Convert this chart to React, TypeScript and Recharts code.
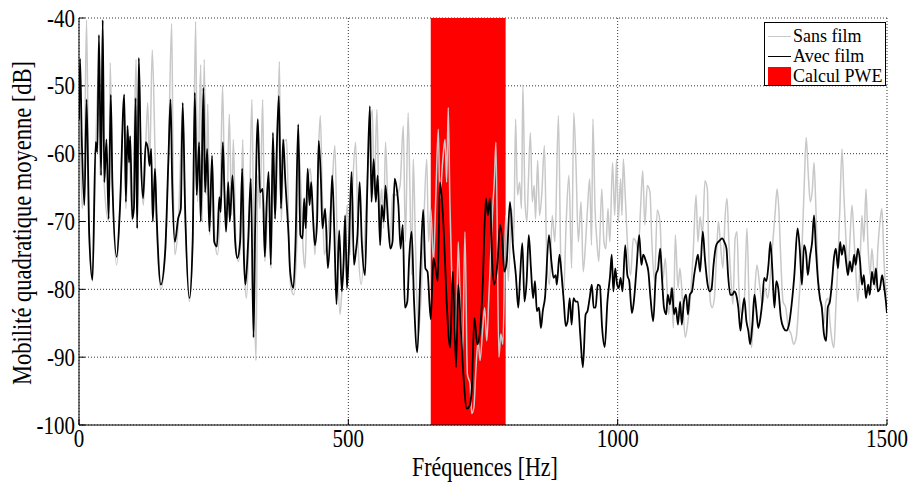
import { CartesianGrid, Line, LineChart, ReferenceArea, XAxis, YAxis } from 'recharts';

// Frequency (Hz) / mobility (dB) pairs.
const sansFilm: [number, number][] = [
  [0, -56], [2, -57.4], [6, -68.1], [10, -62], [14, -40.3], [19, -72], [25, -78.8], [31, -59.3], [36, -48.3], [39, -63.2],
  [44, -41.8], [47, -64.7], [55, -70], [58, -46.6], [62, -64.7], [70, -76.4], [76, -68.1], [84, -52.5], [87, -68.1], [92, -58.3],
  [99, -70], [106, -46.1], [109, -69.1], [111.5, -46.6], [115, -61.3], [119.5, -67.6], [127.5, -52.5], [131, -61.8], [136, -44.7], [141, -59.3],
  [144, -70], [152, -80], [160, -74.9], [166, -61.3], [172, -40.8], [175, -64.2], [178, -74.9], [184.5, -70], [192.5, -53.5], [197, -69.1],
  [205, -81.8], [211, -73], [216.5, -40.5], [220, -67.1], [226, -46.9], [228.5, -70], [232.5, -46.1], [236, -66.1], [239, -52.7], [243, -72],
  [247, -60.8], [252.5, -73], [257, -74.9], [262, -68.1], [266.5, -50], [270.5, -66.1], [274, -70.5], [279, -54.2], [283.5, -69.1], [286.5, -57.9],
  [291.5, -74], [296, -75.9], [300, -73], [304, -57.9], [308, -78.8], [311, -81.3], [316, -70.5], [321, -52], [325, -77.9], [328.5, -90.5],
  [332, -63.2], [336, -68.1], [341, -52], [345, -75.9], [350, -68.1], [353.5, -64.2], [356.5, -76.9], [361, -59.8], [364.5, -69.1], [368, -61.8],
  [372, -46.4], [375.5, -70], [380.5, -58.3], [385.5, -57.9], [390.5, -75.9], [393.5, -79.8], [399, -80.8], [404, -74], [408.5, -59.3], [412, -65.2],
  [416, -74], [419.5, -76.9], [423, -68.1], [429, -62.2], [433, -66.1], [438, -74.9], [443, -63.2], [448, -54.4], [452, -67.1], [455.5, -74.9],
  [460, -73], [464, -70], [469, -66.1], [475, -58.8], [480, -75.9], [484.5, -83.7], [489, -78.8], [494, -73], [498, -67.6], [503, -74.9],
  [508, -64.7], [513.5, -58.3], [518.5, -74], [524, -79.3], [530, -73], [535, -64.2], [539.5, -57.4], [544.5, -53.5], [548, -66.1], [553, -53.5],
  [557.5, -69.1], [562, -65.2], [565.5, -71], [569, -58.3], [574, -69.1], [578, -73], [582, -66], [589.5, -66.1], [596, -64.7], [602, -55.9],
  [606, -73], [611, -54], [614.5, -66.1], [617.5, -77.9], [620.5, -60.8], [624.5, -73], [630, -86.6], [634, -82.7], [639, -73], [645.5, -60.8],
  [649, -73], [653, -68.1], [658, -75.9], [662.5, -66.1], [667, -56.4], [670, -66.6], [675, -61.3], [679.5, -57.9], [682.5, -64.2], [685.5, -53.2],
  [688.5, -67.1], [692, -77.9], [696, -81.8], [700, -87.6], [704, -73], [708.5, -84.2], [712, -89.6], [716.5, -71.5], [721, -92.5], [726, -94],
  [729, -98.3], [733, -97.4], [737, -91.5], [741, -87.6], [744.5, -90.5], [749.5, -85.7], [753, -82.7], [757, -87.6], [760.5, -81.8], [764, -75.4],
  [768, -68.1], [771.5, -63.2], [774, -58.3], [779.5, -90], [783, -86.6], [787, -88.1], [792, -69.1], [797, -78.8], [803, -68.1], [807, -73],
  [810.5, -54.9], [814, -66.1], [818, -64.2], [821.5, -68.1], [824, -49.8], [828, -67.1], [831.5, -70], [834, -64.7], [838, -56.9], [841.5, -67.1],
  [845, -64.7], [847.5, -69.6], [851.5, -61], [855, -69.1], [859, -66.1], [864, -58.8], [868.5, -75.9], [873.5, -79.3], [878.5, -69.1], [883.5, -73],
  [890, -54.4], [894.5, -75.9], [899.5, -80.8], [904.5, -70], [909.5, -63.2], [914.5, -76.9], [918.5, -54], [922.5, -61.3], [927, -73], [932, -67.1],
  [936, -77.4], [940.5, -73], [944, -68.1], [948, -63.7], [951.5, -73.5], [954, -54.9], [958, -68.1], [961.5, -73], [965, -75.9], [970.5, -65.2],
  [974.5, -73], [978, -74], [982, -68.1], [985.5, -73], [990.5, -61.3], [994.5, -69.1], [998, -60.8], [1001, -70], [1005.5, -63.7], [1008, -69.1],
  [1010.5, -60.8], [1014, -66.1], [1019, -74.4], [1024, -77.9], [1029, -72.5], [1034, -73], [1038, -74.4], [1042.5, -68.1], [1046.5, -62.5], [1050.5, -70.5],
  [1055, -64.7], [1060, -65.7], [1063.5, -73], [1068.5, -78.8], [1073.5, -68.3], [1078.5, -70], [1083.5, -78.8], [1088.5, -75.4], [1094.5, -83.7], [1099.5, -79.8],
  [1103.5, -85.7], [1107, -72], [1112, -79.8], [1115.5, -76.9], [1120.5, -81.8], [1125.5, -87.1], [1130.5, -84.7], [1135.5, -80.8], [1140.5, -74], [1145.5, -66.1],
  [1149, -73], [1153, -69.3], [1157.5, -72], [1162, -64], [1166.5, -65.2], [1168.5, -72.5], [1172, -81.8], [1175.5, -82.7], [1179.5, -81.3], [1183, -75.9],
  [1187, -70], [1190.5, -73], [1195.5, -76.9], [1199, -70], [1203, -66.6], [1206.5, -73], [1210.5, -78.8], [1214, -82.2], [1218, -72.5], [1221.5, -71.5],
  [1225, -79.8], [1230, -83.7], [1235, -81.8], [1240, -71], [1244, -81.8], [1248.5, -88.6], [1253.5, -81.8], [1258.5, -76.4], [1263.5, -79.3], [1268.5, -82.2],
  [1273.5, -79.8], [1278.5, -81.3], [1283.5, -77.9], [1288.5, -72.5], [1292, -69.1], [1296, -65.2], [1299.5, -68.6], [1303, -75.9], [1307, -81.8], [1312, -82.7],
  [1317, -85.7], [1322, -86.6], [1326.5, -88.1], [1331.5, -87.1], [1336.5, -81.8], [1341.5, -75.4], [1346.5, -64.2], [1350, -57.6], [1354, -63.2], [1357.5, -67.1],
  [1361.5, -65.2], [1364.5, -61.3], [1368, -68.1], [1372, -77.9], [1375.5, -81.3], [1379, -82.7], [1383, -85.2], [1386.5, -81.8], [1390.5, -81.3], [1394, -84.7],
  [1398, -87.6], [1401.5, -88.6], [1405, -82.7], [1409, -75.9], [1412.5, -68.1], [1416.5, -59.3], [1420, -66.1], [1424, -73], [1427.5, -77.9], [1431, -73],
  [1435, -67.6], [1438.5, -72], [1442.5, -77.9], [1446, -81.8], [1450, -75.9], [1453.5, -69.1], [1457, -73], [1461, -65.2], [1464.5, -73], [1468.5, -77.9],
  [1472, -74], [1476, -77.9], [1479.5, -79.8], [1483, -74], [1487, -70], [1490.5, -68.1], [1494.5, -75.9], [1498, -80.3], [1500, -81],
];

const avecFilm: [number, number][] = [
  [0, -55], [2, -46], [5, -57.4], [10, -67.6], [14, -52], [19, -72], [25, -78.6], [31, -58.3], [34, -59.8], [37, -42.5],
  [41, -63.2], [44, -40.3], [47, -64.2], [51, -57.9], [55, -69.6], [59, -51.3], [62, -64.2], [70, -75.2], [76, -68.1], [84, -51.3],
  [87, -67.1], [90, -55.9], [93, -61.3], [95, -57.4], [99, -69.6], [102, -68], [105, -51.8], [108, -71], [111, -45.9], [115, -60.8],
  [119, -66.6], [124, -58.3], [128, -59.3], [131, -61.8], [134, -59.3], [137, -70], [141, -62.2], [144, -69.1], [152, -79.3], [160, -74.4],
  [166, -60.8], [170, -52], [173, -64.2], [178, -73], [184, -69.6], [189, -68.1], [192.5, -52.5], [197, -68.1], [205, -81.3], [211, -73],
  [215, -51], [218.5, -66.1], [223, -58.3], [226, -70], [231, -50.3], [234, -65.7], [238, -59.3], [242, -71.5], [247, -60.3], [251, -73],
  [256, -73.7], [260.5, -66.4], [263, -68.6], [267, -58.3], [270, -65.7], [273, -71.5], [277, -64.2], [280, -70], [285, -63.2], [290, -73],
  [294, -75.4], [299, -73], [303, -62.2], [306, -74.9], [309, -79.3], [314, -73], [319, -63.7], [324, -87.1], [327, -71], [332, -54.9],
  [336, -65.7], [341, -65.2], [345, -75.2], [348, -68.1], [352, -62.7], [356, -76.4], [360, -56.9], [364, -69.6], [367, -59.8], [371, -51.5],
  [375, -68.1], [379, -57.9], [383, -64], [389, -72], [392, -77.4], [398, -79.8], [402, -73], [407, -55.7], [411, -72], [415, -72.5],
  [418, -66.6], [421, -71], [424.5, -62.2], [428, -67.6], [431, -64.2], [434, -68.6], [438, -73.5], [442, -70], [445, -58.1], [449, -63.7],
  [452, -71], [457, -68.1], [462, -76.9], [466, -72.5], [470, -63.2], [474, -71.5], [478, -82.2], [483, -71.3], [488, -80.3], [491, -76.4],
  [494, -69.1], [497.5, -79.8], [501, -74], [506, -62.7], [510.5, -76.4], [514, -74.4], [517, -72], [521, -64.2], [525, -73], [531, -77.9],
  [535, -65.7], [540, -53], [543, -67.1], [547, -60.8], [551, -67.1], [554.5, -63.2], [559, -73.5], [562, -67.6], [566, -70], [569, -64.7],
  [574, -70.5], [578, -74], [582, -73], [586, -63.7], [590, -65.2], [593, -67.6], [597, -74], [601, -70.5], [605, -82.7], [609.5, -81.8],
  [613, -75.4], [617.5, -71.5], [622, -81.8], [628, -89.3], [634, -76.9], [639, -68.3], [643, -76.9], [647, -77.4], [653, -84.4], [658, -75.4],
  [662, -76.9], [666, -78.8], [670, -64.2], [673, -66.1], [677.5, -72], [682.5, -81.8], [689, -88.6], [694, -77.4], [700, -91.5], [704, -79.3],
  [708.5, -85.2], [713.5, -92.5], [720, -97.6], [725, -97.2], [729, -94.9], [734, -84.2], [739.5, -88.1], [744, -86.6], [749, -80.3], [755.5, -66.6],
  [759, -69.1], [763, -66.6], [767, -75.9], [770.5, -79.3], [777, -76], [781.5, -70.5], [786, -73], [789.5, -77.4], [794, -75.9], [800, -67.1],
  [806, -74], [811, -77.9], [815.5, -82.7], [819, -77.9], [823, -73.2], [827, -81.8], [831, -78.8], [835, -72], [839, -76.9], [843, -81.3],
  [846.5, -78.8], [850, -83.2], [854, -82.7], [857.5, -85.7], [861, -83.2], [865, -81.3], [872.5, -72], [877, -75.9], [881, -78.3], [885, -77.9],
  [887, -79.3], [892, -74.9], [896, -77.9], [900, -81.8], [903.5, -85.4], [907, -84.7], [911, -81.3], [914.5, -85.2], [918, -81.3], [922, -81.8],
  [926, -81.8], [930.5, -86.6], [935.5, -91.5], [940.5, -83.7], [944, -83.2], [948, -81.3], [952, -79.3], [955.5, -82.7], [959, -82.7], [963, -79.3],
  [967, -79.5], [971, -85.5], [976, -88.5], [981, -81.8], [986, -77.9], [989, -74.9], [992, -80.3], [995.5, -76.9], [999, -79.3], [1002, -79.8],
  [1005.5, -78.3], [1009, -80.3], [1014, -73.5], [1018, -77.9], [1021.5, -78.8], [1026.5, -83.5], [1030, -81.8], [1035, -76.9], [1040, -72], [1044, -76.4],
  [1047.5, -74.9], [1052.5, -75.9], [1057, -77.4], [1061, -81.3], [1066, -84.7], [1071, -77.9], [1075, -76.9], [1079, -74], [1082, -77.9], [1086, -82.7],
  [1090, -83.7], [1093, -80.8], [1097, -82.2], [1101, -79.8], [1104.5, -83.7], [1108, -82.7], [1112, -85.2], [1116, -81.8], [1119, -85.2], [1123, -81.8],
  [1127, -80.8], [1130.5, -83.7], [1134, -80.8], [1138, -80.3], [1142, -77.9], [1145, -76.4], [1149, -74.9], [1153, -77.4], [1158, -71.5], [1162, -75.5],
  [1167, -79.3], [1171, -80.3], [1174.5, -79.8], [1178, -76.4], [1183, -73.5], [1187, -73], [1190.5, -72.7], [1194, -72.5], [1198, -73], [1202, -74],
  [1205, -77.9], [1209, -80.8], [1213, -80.8], [1216.5, -80.3], [1220, -80.8], [1224, -82.7], [1228, -86.1], [1231, -83.7], [1235, -81.3], [1239, -84.7],
  [1242.5, -86.1], [1246, -88.1], [1250, -85.2], [1254, -80.8], [1257, -82.7], [1261, -85.7], [1265, -84.2], [1268.5, -81.8], [1272, -78.3], [1276, -78.8],
  [1280, -76.4], [1283.5, -73], [1287, -76.9], [1291, -82.7], [1294.5, -78.8], [1298, -79.8], [1303, -84.2], [1308, -85.7], [1313, -86.1], [1318, -85.2],
  [1323, -82.2], [1328, -77.9], [1334, -71], [1338, -74], [1342, -79.3], [1346, -73.5], [1350, -74.9], [1353, -77.9], [1357, -75.2], [1361, -73],
  [1364.5, -69.1], [1368, -74], [1372, -78.8], [1375.5, -81.3], [1379, -82.7], [1383, -86.6], [1387, -87.6], [1390, -82.7], [1394, -81.8], [1398, -78.8],
  [1401.5, -75.4], [1405, -74], [1409, -76.9], [1413, -73], [1416, -74.9], [1420, -73.5], [1424, -75.9], [1427.5, -77.9], [1431, -75.9], [1435, -77.4],
  [1439, -74.9], [1442, -76.4], [1446, -74], [1450, -75.9], [1453.5, -79.3], [1457, -77.9], [1461, -81.3], [1465, -79.3], [1468, -80.8], [1472, -77.4],
  [1476, -79.3], [1479.5, -76.9], [1483, -80.3], [1487, -79.8], [1491, -77.9], [1494, -79.3], [1498, -81.8], [1500, -83.5],
];

const pweBand = [653, 792];
const xTicks = [0, 500, 1000, 1500];
const yTicks = [-100, -90, -80, -70, -60, -50, -40];

const sansData = sansFilm.map(([f, db]) => ({ f, db }));
const avecData = avecFilm.map(([f, db]) => ({ f, db }));

const SERIF = '"Liberation Serif", "Times New Roman", serif';

function XTick({ x, payload }: any) {
  return (
    <text
      transform={`translate(${x},429) scale(1,1.2)`}
      textAnchor="middle"
      dy="0.72em"
      fontSize={21}
      fontFamily={SERIF}
      fill="#000"
    >
      {payload.value}
    </text>
  );
}

function YTick({ y, payload }: any) {
  return (
    <text
      transform={`translate(75,${y}) scale(1,1.2)`}
      textAnchor="end"
      dy="0.34em"
      fontSize={21}
      fontFamily={SERIF}
      fill="#000"
    >
      {payload.value}
    </text>
  );
}

function LegendBox() {
  const row = { display: 'flex', alignItems: 'center', height: 20, whiteSpace: 'nowrap' } as const;
  return (
    <div
      style={{
        position: 'absolute',
        left: 764,
        top: 22,
        width: 122,
        height: 64,
        border: '1px solid #000',
        background: '#fff',
        fontFamily: SERIF,
        fontSize: 18,
        lineHeight: '20px',
        padding: '3px 0 0 3px',
        boxSizing: 'border-box',
      }}
    >
      <div style={row}>
        <span style={{ width: 23, borderTop: '1.5px solid #c8c8c8', marginRight: 2, flex: 'none' }} />
        Sans film
      </div>
      <div style={row}>
        <span style={{ width: 23, borderTop: '1.8px solid #000', marginRight: 2, flex: 'none' }} />
        Avec film
      </div>
      <div style={row}>
        <span style={{ width: 23, height: 18, background: '#ff0000', marginRight: 2, flex: 'none' }} />
        Calcul PWE
      </div>
    </div>
  );
}

export default function App() {
  return (
    <div style={{ position: 'absolute', left: 0, top: 0, width: 911, height: 486, background: '#fff' }}>
      <LineChart width={911} height={486} margin={{ top: 18, right: 24, bottom: 31, left: 19 }}>
        <CartesianGrid xAxisId="b" yAxisId="l" stroke="#333" strokeDasharray="1 2" />
        <XAxis
          xAxisId="b"
          dataKey="f"
          type="number"
          domain={[0, 1500]}
          ticks={xTicks}
          height={30}
          tickSize={-6}
          tick={<XTick />}
          stroke="#000"
          allowDataOverflow
          label={{
            content: () => (
              <text
                transform="translate(485,467) scale(1,1.2)"
                textAnchor="middle"
                dy="0.34em"
                fontSize={22}
                fontFamily={SERIF}
                fill="#000"
              >
                Fréquences [Hz]
              </text>
            ),
          }}
        />
        <XAxis
          xAxisId="t"
          orientation="top"
          dataKey="f"
          type="number"
          domain={[0, 1500]}
          ticks={xTicks}
          height={0}
          tickSize={-6}
          tick={false}
          stroke="#000"
          allowDataOverflow
        />
        <YAxis
          yAxisId="l"
          type="number"
          domain={[-100, -40]}
          ticks={yTicks}
          width={60}
          tickSize={-6}
          tick={<YTick />}
          stroke="#000"
          allowDataOverflow
          label={{
            content: () => (
              <text
                transform="translate(22,223) rotate(-90) scale(1,1.19)"
                textAnchor="middle"
                dy="0.34em"
                fontSize={22.5}
                fontFamily={SERIF}
                fill="#000"
              >
                Mobilité quadratique moyenne [dB]
              </text>
            ),
          }}
        />
        <YAxis
          yAxisId="r"
          orientation="right"
          type="number"
          domain={[-100, -40]}
          ticks={yTicks}
          width={0}
          tickSize={-6}
          tick={false}
          stroke="#000"
          allowDataOverflow
        />
        <ReferenceArea
          xAxisId="b"
          yAxisId="l"
          x1={pweBand[0]}
          x2={pweBand[1]}
          y1={-100}
          y2={-40}
          fill="#ff0000"
          fillOpacity={1}
          stroke="none"
        />
        <Line
          xAxisId="b"
          yAxisId="l"
          data={sansData}
          dataKey="db"
          type="monotone"
          stroke="#c8c8c8"
          strokeWidth={1.5}
          dot={false}
          isAnimationActive={false}
        />
        <Line
          xAxisId="b"
          yAxisId="l"
          data={avecData}
          dataKey="db"
          type="monotone"
          stroke="#000"
          strokeWidth={1.8}
          dot={false}
          isAnimationActive={false}
        />
      </LineChart>
      <LegendBox />
    </div>
  );
}
